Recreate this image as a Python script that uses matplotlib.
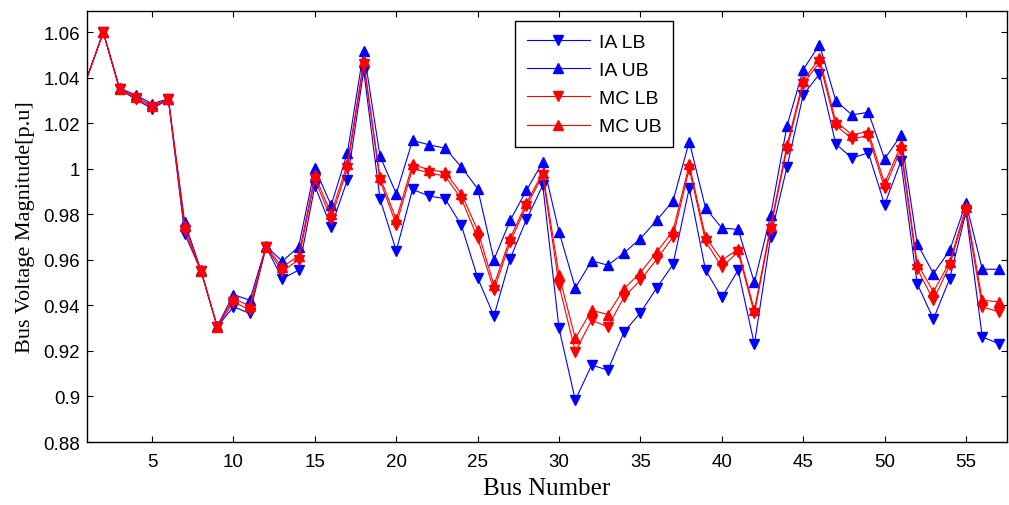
import matplotlib
matplotlib.use('Agg')
import matplotlib.pyplot as plt
import numpy as np

# bus numbers 1..57
bus = np.arange(1, 58)

# interval arithmetic bounds
ia_lb = [1.040, 1.060, 1.035, 1.0305, 1.0264, 1.0305, 0.9716, 0.9552, 0.9306, 0.9394,
         0.9365, 0.9657, 0.9518, 0.9555, 0.9925, 0.9745, 0.9952, 1.0432, 0.9869, 0.9640,
         0.9910, 0.9881, 0.9869, 0.9752, 0.9521, 0.9353, 0.9606, 0.9778, 0.9928, 0.9299,
         0.8984, 0.9138, 0.9116, 0.9284, 0.9368, 0.9477, 0.9580, 0.9916, 0.9555, 0.9435,
         0.9555, 0.9229, 0.9701, 1.0008, 1.0325, 1.0417, 1.0110, 1.0047, 1.0071, 0.9843,
         1.0033, 0.9496, 0.9340, 0.9518, 0.9810, 0.9262, 0.9232]
ia_ub = [1.040, 1.060, 1.0355, 1.0324, 1.0286, 1.0308, 0.9767, 0.9555, 0.9308, 0.9448,
         0.9423, 0.9660, 0.9594, 0.9657, 1.0003, 0.9840, 1.0071, 1.0520, 1.0056, 0.9891,
         1.0125, 1.0106, 1.0091, 1.0008, 0.9913, 0.9601, 0.9774, 0.9906, 1.0030, 0.9723,
         0.9477, 0.9596, 0.9577, 0.9631, 0.9694, 0.9774, 0.9859, 1.0120, 0.9828, 0.9740,
         0.9734, 0.9501, 0.9796, 1.0188, 1.0436, 1.0546, 1.0300, 1.0237, 1.0249, 1.0044,
         1.0147, 0.9672, 0.9540, 0.9642, 0.9851, 0.9559, 0.9559]

# Monte Carlo bounds
mc_lb = [1.040, 1.060, 1.0351, 1.0310, 1.0272, 1.0305, 0.9730, 0.9552, 0.9306, 0.9416,
         0.9380, 0.9657, 0.9550, 0.9600, 0.9954, 0.9781, 1.0003, 1.0461, 0.9949, 0.9755,
         1.0001, 0.9983, 0.9968, 0.9869, 0.9696, 0.9467, 0.9679, 0.9837, 0.9971, 0.9489,
         0.9197, 0.9335, 0.9306, 0.9438, 0.9511, 0.9603, 0.9701, 1.0001, 0.9682, 0.9569,
         0.9635, 0.9365, 0.9737, 1.0088, 1.0373, 1.0468, 1.0191, 1.0132, 1.0146, 0.9915,
         1.0085, 0.9562, 0.9423, 0.9577, 0.9818, 0.9394, 0.9372]
mc_ub = [1.040, 1.060, 1.0353, 1.0316, 1.0278, 1.0306, 0.9750, 0.9553, 0.9307, 0.9430,
         0.9398, 0.9658, 0.9569, 0.9618, 0.9971, 0.9803, 1.0023, 1.0473, 0.9964, 0.9778,
         1.0020, 0.9996, 0.9986, 0.9891, 0.9730, 0.9489, 0.9696, 0.9851, 0.9983, 0.9533,
         0.9255, 0.9379, 0.9360, 0.9474, 0.9544, 0.9635, 0.9727, 1.0020, 0.9701, 0.9599,
         0.9647, 0.9379, 0.9749, 1.0103, 1.0388, 1.0486, 1.0208, 1.0150, 1.0164, 0.9936,
         1.0103, 0.9584, 0.9460, 0.9591, 0.9832, 0.9423, 0.9416]

xticks = [5, 10, 15, 20, 25, 30, 35, 40, 45, 50, 55]
yticks = [0.88, 0.90, 0.92, 0.94, 0.96, 0.98, 1.00, 1.02, 1.04, 1.06]
ytick_labels = ['0.88', '0.9', '0.92', '0.94', '0.96', '0.98', '1', '1.02', '1.04', '1.06']

plt.rcParams['font.family'] = ['Liberation Sans', 'DejaVu Sans']

fig = plt.figure(figsize=(10.09, 5.06), dpi=100)
ax = fig.add_axes([0.0862, 0.1245, 0.9115, 0.8524])

# slack bus has no marker
mk = list(range(1, 57))
style = dict(lw=0.8, ms=6.5, markevery=mk)
ax.plot(bus, ia_lb, color='#0000ff', marker='v', label='IA LB', **style)
ax.plot(bus, ia_ub, color='#0000ff', marker='^', label='IA UB', **style)
ax.plot(bus, mc_lb, color='#ff0000', marker='v', label='MC LB', **style)
ax.plot(bus, mc_ub, color='#ff0000', marker='^', label='MC UB', **style)

ax.set_xlim(1, 57.5)
ax.set_ylim(0.88, 1.0695)
ax.set_xticks(xticks)
ax.set_yticks(yticks)
ax.set_yticklabels(ytick_labels)
ax.tick_params(direction='in', length=4, width=0.8, top=True, right=True,
               labelsize=13.5, pad=5)
ax.tick_params(axis='x', pad=8)
for sp in ax.spines.values():
    sp.set_linewidth(1.0)

ax.set_xlabel('Bus Number', family='Liberation Serif', fontsize=18, labelpad=5)
ax.set_ylabel('Bus Voltage Magnitude[p.u]', family='Liberation Serif', fontsize=16, labelpad=6)

leg = ax.legend(loc='upper left', bbox_to_anchor=(0.4654, 0.9754), borderaxespad=0,
                fontsize=14, handlelength=3.25, handletextpad=0.45, labelspacing=0.55,
                borderpad=0.6, fancybox=False, framealpha=1, edgecolor='black')
leg.get_frame().set_linewidth(1.0)
for h in leg.legend_handles:
    h.set_markevery([1])

fig.savefig('out.png', dpi=100)
